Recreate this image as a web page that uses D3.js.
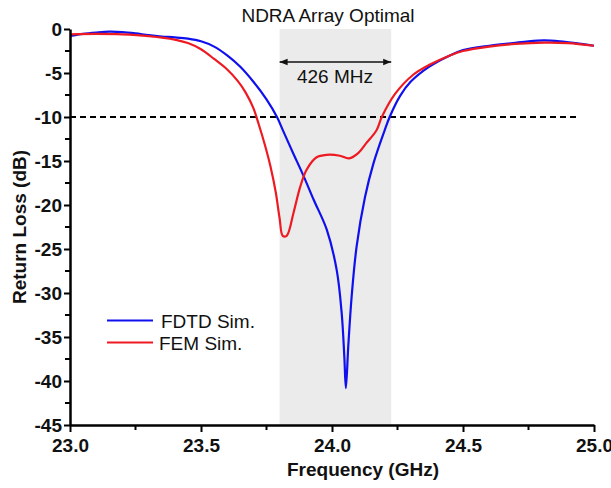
<!DOCTYPE html>
<html><head><meta charset="utf-8">
<script src="https://cdn.jsdelivr.net/npm/d3@7"></script>
<style>body{margin:0;background:#fff}svg{display:block}text{font-family:"Liberation Sans",Arial,sans-serif}</style>
</head><body><svg id="c" width="611" height="488"></svg>
<script>
const fdtdFreq = [23.00,23.05,23.10,23.15,23.20,23.25,23.30,23.35,23.40,23.45,23.50,23.55,23.60,23.65,23.70,23.75,23.79,23.814,23.85,23.89,23.93,23.98,24.018,24.037,24.047,24.053,24.062,24.075,24.094,24.126,24.158,24.20,24.22,24.26,24.30,24.37,24.45,24.50,24.60,24.69,24.75,24.81,24.87,24.93,25.00];
const fdtdDB   = [-0.8,-0.55,-0.4,-0.3,-0.35,-0.5,-0.7,-0.85,-0.95,-1.1,-1.4,-2.0,-3.0,-4.3,-6.0,-8.0,-10.0,-11.6,-14.0,-16.6,-19.4,-22.8,-27.4,-32.3,-37.2,-40.8,-36.1,-30.4,-24.7,-19.1,-15.3,-11.6,-10.0,-7.6,-6.0,-4.3,-3.0,-2.4,-1.9,-1.6,-1.4,-1.3,-1.4,-1.6,-1.9];
const femFreq  = [23.00,23.10,23.20,23.30,23.40,23.45,23.50,23.55,23.60,23.64,23.67,23.70,23.72,23.745,23.765,23.785,23.80,23.812,23.827,23.853,23.878,23.903,23.94,23.98,24.03,24.065,24.10,24.13,24.17,24.19,24.24,24.31,24.37,24.45,24.50,24.60,24.70,24.81,24.90,25.00];
const femDB    = [-0.6,-0.55,-0.6,-0.8,-1.2,-1.6,-2.3,-3.4,-4.6,-5.9,-7.2,-9.0,-10.8,-13.3,-15.6,-18.5,-21.5,-23.5,-23.5,-20.9,-18.0,-16.0,-14.6,-14.3,-14.4,-14.7,-14.1,-13.0,-11.5,-10.0,-7.4,-5.2,-4.1,-3.0,-2.5,-2.0,-1.7,-1.55,-1.6,-1.9];
const xTicks = [23.0,23.5,24.0,24.5,25.0];
const yTicks = [0,-5,-10,-15,-20,-25,-30,-35,-40,-45];
const bandStart = 23.8, bandEnd = 24.226;
const refLevel = -10;
const seriesNames = ["FDTD Sim.","FEM Sim."];
const bandLabel = "426 MHz";
const titleText = "NDRA Array Optimal";

const svg = d3.select("#c");
const x = d3.scaleLinear().domain([23,25]).range([70,594]);
const y = d3.scaleLinear().domain([-45,0]).range([425,29]);

// band
svg.append("rect").attr("x",x(bandStart)).attr("y",y(0)).attr("width",x(bandEnd)-x(bandStart)).attr("height",y(-45)-y(0)).attr("fill","#ebebeb");

// dashed -10
svg.append("line").attr("x1",x(23)).attr("x2",x(24.94)).attr("y1",y(refLevel)).attr("y2",y(refLevel))
  .attr("stroke","#000").attr("stroke-width",2).attr("stroke-dasharray","6,4");

// curves
const line = d3.line().x(d=>x(d[0])).y(d=>y(d[1])).curve(d3.curveCatmullRom.alpha(0.5));
const fdtd = fdtdFreq.map((f,i)=>[f,fdtdDB[i]]);
const fem = femFreq.map((f,i)=>[f,femDB[i]]);
const colors = ["#1010ee","#ee1a22"];
svg.append("path").attr("d",line(fdtd)).attr("fill","none").attr("stroke",colors[0]).attr("stroke-width",2.2).attr("stroke-linejoin","round");
svg.append("path").attr("d",line(fem)).attr("fill","none").attr("stroke",colors[1]).attr("stroke-width",2.2).attr("stroke-linejoin","round");

// axes
const xAxis = d3.axisBottom(x).tickValues(xTicks).tickFormat(d3.format(".1f")).tickSize(7).tickSizeOuter(0);
const gx = svg.append("g").attr("transform",`translate(0,${y(-45)})`).call(xAxis);
const yAxis = d3.axisLeft(y).tickValues(yTicks).tickFormat(d=>d===0?"0":"-"+Math.abs(d)).tickSize(6).tickSizeOuter(0);
const gy = svg.append("g").attr("transform",`translate(${x(23)},0)`).call(yAxis);
// minor ticks
const xMinor = d3.range(23.25,25,0.5);
svg.append("g").selectAll("line").data(xMinor).join("line")
  .attr("x1",d=>x(d)).attr("x2",d=>x(d)).attr("y1",y(-45)).attr("y2",y(-45)+5).attr("stroke","#000").attr("stroke-width",2);
const yMinor = d3.range(-2.5,-45,-5);
svg.append("g").selectAll("line").data(yMinor).join("line")
  .attr("x1",x(23)).attr("x2",x(23)-5).attr("y1",d=>y(d)).attr("y2",d=>y(d)).attr("stroke","#000").attr("stroke-width",2);
[gx,gy].forEach(g=>{
  g.select(".domain").attr("stroke","#000").attr("stroke-width",2.5);
  g.selectAll(".tick line").attr("stroke","#000").attr("stroke-width",2);
  g.selectAll(".tick text").attr("fill","#111").style("font-size","19px").style("font-weight","bold").style("font-family","'Liberation Sans',Arial,sans-serif");
});
gx.selectAll(".tick text").attr("dy","0.71em").attr("y",14);
gy.selectAll(".tick text").attr("x",-8);

// axis titles
svg.append("text").attr("x",363).attr("y",476).attr("text-anchor","middle").style("font-size","19px").style("font-weight","bold").attr("fill","#111").text("Frequency (GHz)");
svg.append("text").attr("transform","translate(26,227) rotate(-90)").attr("text-anchor","middle").style("font-size","19px").style("font-weight","bold").attr("fill","#111").text("Return Loss (dB)");

// title
svg.append("text").attr("x",328).attr("y",22).attr("text-anchor","middle").style("font-size","19px").attr("fill","#111").text(titleText);

// band arrow
const defs = svg.append("defs");
defs.append("marker").attr("id","ah").attr("viewBox","0 0 10 10").attr("refX",10).attr("refY",5)
  .attr("markerWidth",8).attr("markerHeight",8).attr("markerUnits","userSpaceOnUse").attr("orient","auto-start-reverse")
  .append("path").attr("d","M0,1 L10,5 L0,9 z").attr("fill","#111");
svg.append("line").attr("x1",x(bandStart)).attr("x2",x(bandEnd)).attr("y1",62).attr("y2",62)
  .attr("stroke","#111").attr("stroke-width",1.5).attr("marker-start","url(#ah)").attr("marker-end","url(#ah)");
svg.append("text").attr("x",335).attr("y",83).attr("text-anchor","middle").style("font-size","19px").attr("fill","#111").text(bandLabel);

// legend
const leg = svg.append("g");
[[320.5,161,328],[342.5,159,350]].forEach((p,i)=>{
  leg.append("line").attr("x1",107).attr("x2",153).attr("y1",p[0]).attr("y2",p[0]).attr("stroke",colors[i]).attr("stroke-width",2.2);
  leg.append("text").attr("x",p[1]).attr("y",p[2]).style("font-size","19px").attr("fill","#111").text(seriesNames[i]);
});
</script></body></html>
